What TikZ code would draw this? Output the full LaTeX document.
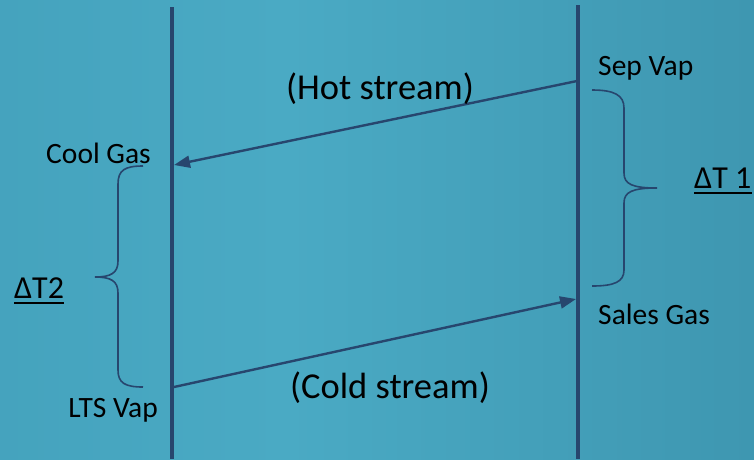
\documentclass[tikz,border=0pt]{standalone}
\usepackage{fontspec}
\setmainfont{Carlito}
\usetikzlibrary{arrows.meta}

\definecolor{navy}{HTML}{27466E}
\definecolor{bgA}{HTML}{3E9AB5}
\definecolor{bgB}{HTML}{4AAAC4}
\definecolor{bgC}{HTML}{3D95AF}
\definecolor{bgD}{HTML}{2E7E97}
\pgfdeclarehorizontalshading{panel}{100bp}{color(0bp)=(bgA); color(44bp)=(bgB); color(78bp)=(bgC); color(100bp)=(bgD)}

\begin{document}
\begin{tikzpicture}[
        x = 1pt, y = -1pt,
        rail/.style = {line width=3.5pt, draw=navy},
        stream/.style = {line width=2.4pt, draw=navy, -{Triangle[length=16pt,width=12pt]}},
        brace/.style = {line width=1.6pt, draw=navy},
        uline/.style = {line width=2pt},
        lbl/.style = {inner sep=0pt, font=\fontsize{29.5}{34}\selectfont},
        dlbl/.style = {inner sep=0pt, font=\fontsize{32}{36}\selectfont},
        big/.style = {inner sep=0pt, font=\fontsize{36.5}{42}\selectfont}]
      \shade[shading=panel] (0,0) rectangle (754,459);
      \useasboundingbox (0,0) rectangle (754,459);

      % rails
      \coordinate (ltop) at (172,7);
      \coordinate (lbot) at (172,459);
      \coordinate (rtop) at (578,5);
      \coordinate (rbot) at (578,459);
      \draw[rail] (ltop) -- (lbot);
      \draw[rail] (rtop) -- (rbot);

      % streams
      \coordinate (hotin) at (577,81);
      \coordinate (hotout) at (174,165);
      \coordinate (coldin) at (174,387);
      \coordinate (coldout) at (576,299);
      \draw[stream] (hotin) -- (hotout);
      \draw[stream] (coldin) -- (coldout);

      % braces
      \draw[brace] (143,166) .. controls (125,166) and (118,170) .. (118,184)
        -- (118,261) .. controls (118,273) and (111,277) .. (95,277)
        .. controls (111,277) and (118,281) .. (118,293)
        -- (118,370) .. controls (118,383) and (125,387) .. (143,387);
      \draw[brace] (592,90) .. controls (614,90) and (624,95) .. (624,108)
        -- (624,173) .. controls (624,184) and (632,188) .. (657,188)
        .. controls (632,188) and (624,192) .. (624,203)
        -- (624,270) .. controls (624,282) and (614,286) .. (592,286);

      % labels
      \node[lbl, anchor=base east] (cool) at (151,163) {Cool Gas};
      \node[lbl, anchor=base east] (lts) at (158,417) {LTS Vap};
      \node[lbl, anchor=base west] (sep) at (598,75) {Sep Vap};
      \node[lbl, anchor=base west] (sales) at (598,324) {Sales Gas};
      \node[dlbl, anchor=base west] (dt2) at (14,298) {ΔT2};
      \node[dlbl, anchor=base west] (dt1) at (694,188) {ΔT 1};
      \draw[uline] ([yshift=-5pt]dt2.south west) -- ([yshift=-5pt]dt2.south east);
      \draw[uline] ([yshift=-5pt]dt1.south west) -- ([yshift=-5pt]dt1.south east);
      \node[big, anchor=base] (hot) at (380,99) {(Hot stream)};
      \node[big, anchor=base] (cold) at (390,398) {(Cold stream)};
    \end{tikzpicture}
\end{document}
